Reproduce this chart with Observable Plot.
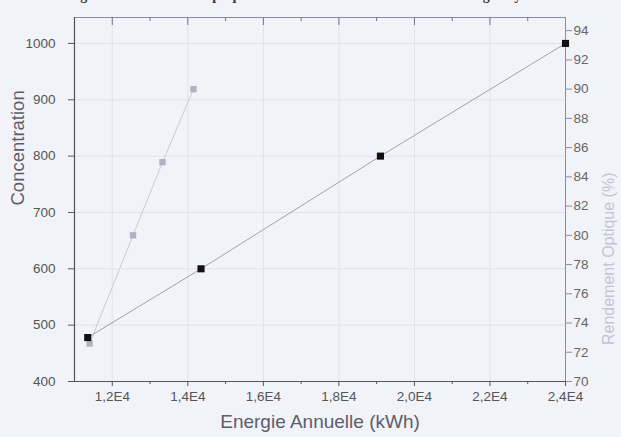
<!DOCTYPE html>
<html><head><meta charset="utf-8">
<script src="https://cdn.jsdelivr.net/npm/d3@7"></script>
<script src="https://cdn.jsdelivr.net/npm/@observablehq/plot@0.6"></script>
<style>
body{margin:0;background:#f2f3f9;}
#wrap{position:relative;width:621px;height:437px;overflow:hidden;background:#f2f3f9;}
#title{position:absolute;top:-12px;left:0;width:621px;text-align:center;font:bold 14px "Liberation Serif",serif;color:#333;white-space:nowrap;}
#chart{position:absolute;top:0;left:0;}
</style></head>
<body><div id="wrap"><div id="title">Figure 5 : Rendement Optique et Concentration en fonction de l'Energie Hybride</div><div id="chart"></div></div>
<script>
// Data
const energieConc = [11350, 14350, 19100, 24000];
const concentration = [478, 600, 800, 1000];
const energieRend = [11400, 12550, 13330, 14150];
const rendement = [72.6, 80, 85, 90];
const xTicks = [12000, 14000, 16000, 18000, 20000, 22000, 24000];
const xMinor = [13000, 15000, 17000, 19000, 21000, 23000];
const yTicks = [400, 500, 600, 700, 800, 900, 1000];
const y2Ticks = [70, 72, 74, 76, 78, 80, 82, 84, 86, 88, 90, 92, 94];

const xDom = [11000, 24000];
const yDom = [400, 1046];
const y2Dom = [70, 94.9];
const toLeft = v => yDom[0] + (v - y2Dom[0]) * (yDom[1] - yDom[0]) / (y2Dom[1] - y2Dom[0]);
const fromLeft = v => y2Dom[0] + (v - yDom[0]) * (y2Dom[1] - y2Dom[0]) / (yDom[1] - yDom[0]);

const conc = energieConc.map((x, i) => ({x, y: concentration[i]}));
const rend = energieRend.map((x, i) => ({x, y: toLeft(rendement[i])}));
const fmtX = d => (d / 10000).toFixed(1).replace(".", ",") + "E4";
const pxPerY = 364 / (yDom[1] - yDom[0]);

const chart = Plot.plot({
  width: 621, height: 437,
  marginLeft: 74, marginRight: 56, marginTop: 17, marginBottom: 56,
  style: {background: "transparent", fontFamily: "'Liberation Sans', Arial, sans-serif", fontSize: "13.5px", color: "#555"},
  x: {domain: xDom},
  y: {domain: yDom},
  marks: [
    Plot.gridX(xTicks.slice(0, -1), {stroke: "#dfe1ec", strokeOpacity: 1}),
    Plot.gridY(yTicks.slice(1), {stroke: "#dfe1ec", strokeOpacity: 1}),
    Plot.ruleX([xDom[1]], {stroke: "#8a8ea0", strokeWidth: 1}),
    Plot.ruleY([yDom[1]], {stroke: "#8a8ea0", strokeWidth: 1}),
    // top inward ticks
    Plot.ruleX(xTicks.slice(0, -1), {y1: yDom[1], y2: yDom[1] - 8 / pxPerY, stroke: "#6f7385"}),
    Plot.ruleX(xMinor, {y1: yDom[1], y2: yDom[1] - 4 / pxPerY, stroke: "#6f7385"}),
    Plot.axisX(xTicks, {anchor: "bottom", tickFormat: fmtX, tickSize: 5, tickPadding: 5, stroke: "#555", fill: "#555", label: null}),
    Plot.axisX(xMinor, {anchor: "bottom", tickFormat: () => "", tickSize: 3, stroke: "#555", label: null}),
    Plot.axisY(yTicks, {anchor: "left", tickSize: 6, tickPadding: 13, stroke: "#555", fill: "#555", tickFormat: d => String(d), label: null}),
    Plot.axisY(y2Ticks.map(toLeft), {anchor: "right", tickSize: 6, tickPadding: 2, stroke: "#8a8ea0", fill: "#666", tickFormat: d => Math.round(fromLeft(d)), label: null}),
    Plot.ruleX([xDom[0]], {stroke: "#555", strokeWidth: 1.2}),
    Plot.ruleY([yDom[0]], {stroke: "#555", strokeWidth: 1.2}),
    Plot.text(["Concentration"], {frameAnchor: "left", dx: -56, dy: 6, rotate: -90, fontSize: 18.5, fill: "#5a5d6a"}),
    Plot.text(["Rendement Optique (%)"], {frameAnchor: "right", dx: 43, dy: -27, rotate: -90, fontSize: 16, fill: "#c0c4d6"}),
    Plot.text(["Energie Annuelle (kWh)"], {frameAnchor: "bottom", dy: 46, fontSize: 19, fill: "#5a5d6a"}),
    Plot.line(rend, {x: "x", y: "y", stroke: "#c8cad6", strokeWidth: 1}),
    Plot.line(conc, {x: "x", y: "y", stroke: "#9ea1b0", strokeWidth: 1}),
    Plot.dot(rend, {x: "x", y: "y", symbol: "square", r: 3.6, fill: "#b0b2c2", stroke: "none"}),
    Plot.dot(conc, {x: "x", y: "y", symbol: "square", r: 4, fill: "#111", stroke: "none"})
  ]
});
document.getElementById("chart").appendChild(chart);
</script></body></html>
